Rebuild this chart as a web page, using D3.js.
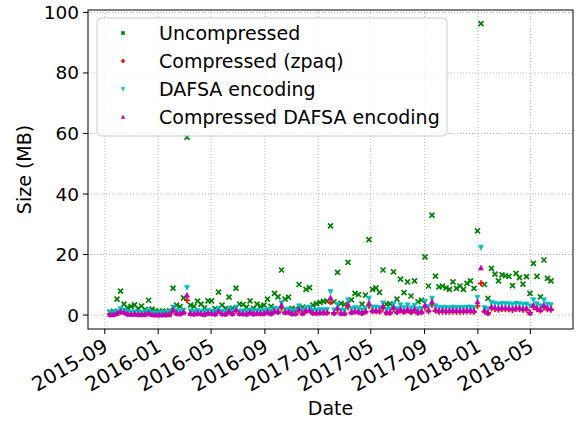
<!DOCTYPE html>
<html><head><meta charset="utf-8">
<script src="https://cdn.jsdelivr.net/npm/d3@7"></script>
<style>
html,body{margin:0;padding:0;background:#fff;}
svg{display:block;font-family:"DejaVu Sans",sans-serif;}
</style></head>
<body>
<svg id="chart" width="581" height="421"></svg>
<script>
const dates = ["2015-09-13","2015-09-21","2015-09-29","2015-10-07","2015-10-15","2015-10-23","2015-10-31","2015-11-08","2015-11-16","2015-11-24",
"2015-12-02","2015-12-10","2015-12-18","2015-12-26","2016-01-03","2016-01-11","2016-01-19","2016-01-27","2016-02-04","2016-02-12",
"2016-02-20","2016-02-28","2016-03-07","2016-03-15","2016-03-23","2016-03-31","2016-04-08","2016-04-16","2016-04-24","2016-05-02",
"2016-05-10","2016-05-18","2016-05-26","2016-06-03","2016-06-11","2016-06-19","2016-06-27","2016-07-05","2016-07-13","2016-07-21",
"2016-07-29","2016-08-06","2016-08-14","2016-08-22","2016-08-30","2016-09-07","2016-09-15","2016-09-23","2016-10-01","2016-10-09",
"2016-10-17","2016-10-25","2016-11-02","2016-11-10","2016-11-18","2016-11-26","2016-12-04","2016-12-12","2016-12-20","2016-12-28",
"2017-01-05","2017-01-13","2017-01-21","2017-01-29","2017-02-06","2017-02-14","2017-02-22","2017-03-02","2017-03-10","2017-03-18",
"2017-03-26","2017-04-03","2017-04-11","2017-04-19","2017-04-27","2017-05-05","2017-05-13","2017-05-21","2017-05-29","2017-06-06",
"2017-06-14","2017-06-22","2017-06-30","2017-07-08","2017-07-16","2017-07-24","2017-08-01","2017-08-09","2017-08-17","2017-08-25",
"2017-09-02","2017-09-10","2017-09-18","2017-09-26","2017-10-04","2017-10-12","2017-10-20","2017-10-28","2017-11-05","2017-11-13",
"2017-11-21","2017-11-29","2017-12-07","2017-12-15","2017-12-23","2017-12-31","2018-01-08","2018-01-16","2018-01-24","2018-02-01",
"2018-02-09","2018-02-17","2018-02-25","2018-03-05","2018-03-13","2018-03-21","2018-03-29","2018-04-06","2018-04-14","2018-04-22",
"2018-04-30","2018-05-08","2018-05-16","2018-05-24","2018-06-01","2018-06-09","2018-06-17"];

const uncompressed = [1.0,1.2,5.3,7.9,3.6,2.4,2.9,3.4,2.1,3.0,
1.8,4.9,2.0,1.4,1.2,1.3,1.2,1.4,8.9,3.3,
2.8,5.7,58.8,3.3,2.9,4.6,3.6,2.4,4.7,4.7,
2.1,7.6,3.3,2.2,5.9,2.3,8.9,3.6,3.5,2.6,
4.7,2.2,3.6,2.9,3.3,5.3,2.9,7.2,6.0,14.9,
5.3,5.9,2.2,2.0,10.1,2.6,8.5,9.1,3.3,3.8,
4.2,4.5,4.6,29.5,4.4,14.1,3.9,3.5,17.4,5.0,
7.2,6.8,3.6,6.6,24.9,8.5,9.0,7.5,14.9,3.6,
3.7,14.3,5.3,11.9,7.4,11.0,6.3,11.3,4.4,4.9,
19.2,9.6,33.0,12.9,9.3,9.6,9.0,8.5,11.0,8.8,
9.6,8.5,10.5,11.3,8.8,27.8,96.3,10.1,5.5,15.4,
13.5,11.3,13.3,13.0,12.8,9.7,13.8,12.4,10.2,12.7,
7.2,17.1,12.8,6.0,18.2,12.1,11.3];

const zpaq = [0.3,0.3,0.7,1.1,0.9,0.4,0.4,0.4,0.3,0.3,
0.3,0.6,0.3,0.2,0.2,0.2,0.2,0.3,1.6,0.6,
0.5,0.9,4.9,0.5,0.4,0.6,0.5,0.3,0.7,0.6,
0.4,1.6,0.5,0.4,1.1,0.5,1.7,0.5,0.5,0.4,
0.8,0.4,0.6,0.5,0.6,1.0,0.5,1.2,1.0,2.2,
0.9,1.0,0.5,0.5,1.6,0.6,1.3,1.5,0.7,0.7,
0.8,0.8,0.8,4.2,0.7,1.8,0.6,0.6,2.6,0.9,
1.2,1.0,0.7,1.1,3.0,1.3,1.3,1.2,2.2,0.8,
0.8,2.0,1.0,1.6,1.1,1.6,1.0,1.6,0.8,1.0,
2.5,1.3,3.3,1.4,1.1,1.1,1.1,1.1,1.2,1.1,
1.1,1.1,1.2,1.2,1.1,3.0,10.5,1.2,0.7,2.2,
2.0,1.8,2.0,1.9,1.9,1.7,2.0,1.9,1.8,1.8,
0.8,2.6,1.9,1.5,2.6,1.9,1.8];

const dafsa = [0.7,0.8,1.2,2.0,1.6,1.0,0.9,1.0,0.9,0.8,
1.0,1.4,0.8,0.7,0.7,0.8,0.8,1.0,2.6,1.4,
1.2,1.6,9.1,1.3,1.1,1.4,1.2,1.0,1.5,1.3,
1.1,2.0,1.2,1.1,2.0,1.2,2.6,1.3,1.3,1.1,
1.6,1.2,1.4,1.3,1.4,1.8,1.3,2.2,2.0,4.0,
1.8,1.9,1.4,1.4,3.0,1.5,2.4,2.6,1.6,1.6,
1.7,1.7,1.8,7.7,1.7,3.5,1.6,1.6,5.0,2.0,
2.4,2.2,1.7,2.2,5.5,2.6,2.6,2.4,4.0,1.8,
1.9,3.6,2.1,3.3,2.4,3.3,2.3,3.2,2.0,2.2,
4.4,2.8,5.5,3.0,2.4,2.5,2.4,2.3,2.6,2.4,
2.5,2.4,2.6,2.6,2.4,5.8,22.3,2.4,2.0,4.1,
3.8,3.6,3.8,3.7,3.7,3.4,3.8,3.7,3.5,3.6,
3.0,5.0,3.7,3.0,5.0,3.6,3.3];

const compressedDafsa = [0.2,0.2,0.6,1.3,1.0,0.4,0.3,0.4,0.3,0.2,
0.3,0.7,0.2,0.1,0.1,0.2,0.2,0.3,1.8,0.7,
0.5,1.0,6.6,0.6,0.4,0.7,0.5,0.3,0.8,0.6,
0.4,1.3,0.5,0.4,1.3,0.5,1.8,0.6,0.6,0.4,
0.9,0.5,0.7,0.6,0.7,1.1,0.6,1.4,1.2,3.3,
1.0,1.1,0.6,0.6,2.0,0.7,1.5,1.7,0.8,0.8,
0.9,0.9,1.0,5.7,0.8,2.4,0.7,0.7,3.6,1.0,
1.4,1.2,0.8,1.3,4.0,1.6,1.6,1.4,3.0,0.9,
1.0,2.6,1.2,2.0,1.3,2.0,1.2,2.0,1.0,1.2,
3.3,1.7,4.5,1.9,1.5,1.6,1.5,1.5,1.7,1.5,
1.6,1.5,1.7,1.7,1.5,4.4,15.6,1.6,0.8,2.8,
2.5,2.3,2.5,2.4,2.4,2.1,2.5,2.4,2.2,2.3,
0.8,3.3,2.4,1.8,3.3,2.4,2.2];

const seriesNames = ["Uncompressed","Compressed (zpaq)","DAFSA encoding","Compressed DAFSA encoding"];
const xTickLabels = ["2015-09","2016-01","2016-05","2016-09","2017-01","2017-05","2017-09","2018-01","2018-05"];
const yTicks = [0,20,40,60,80,100];

const parse = d3.utcParse("%Y-%m-%d");
const parseMonth = d3.utcParse("%Y-%m");
const dd = dates.map(parse);

const svg = d3.select("#chart");
const m = {l:88, r:573, t:10, b:329};
const FS = 19;

const ext = d3.extent(dd);
const span = ext[1]-ext[0];
const x = d3.scaleUtc().domain([new Date(+ext[0]-span*0.05), new Date(+ext[1]+span*0.05)]).range([m.l, m.r]);
const y = d3.scaleLinear().domain([-4.6, 100.8]).range([m.b, m.t]);

// grid
const grid = svg.append("g");
xTickLabels.forEach(t => {
  const xx = x(parseMonth(t));
  grid.append("line").attr("x1",xx).attr("x2",xx).attr("y1",m.t).attr("y2",m.b)
    .attr("stroke","#b0b0b0").attr("stroke-width",0.9).attr("stroke-dasharray","1,2");
});
yTicks.forEach(v => {
  grid.append("line").attr("x1",m.l).attr("x2",m.r).attr("y1",y(v)).attr("y2",y(v))
    .attr("stroke","#b0b0b0").attr("stroke-width",0.9).attr("stroke-dasharray","1,2");
});

// markers
const S = 2.5;
const markerDefs = [
  {vals: uncompressed, color:"#008000", type:"x"},
  {vals: zpaq, color:"#ff0000", type:"+"},
  {vals: dafsa, color:"#00bfbf", type:"v"},
  {vals: compressedDafsa, color:"#bf00bf", type:"^"}
];
function markerPath(type, s){
  if(type==="x") return `M${-s},${-s}L${s},${s}M${-s},${s}L${s},${-s}`;
  if(type==="+") return `M${-s*1.2},0H${s*1.2}M0,${-s*1.2}V${s*1.2}`;
  if(type==="v") return `M${-s},${-s*0.9}L${s},${-s*0.9}L0,${s*1.1}Z`;
  return `M${-s},${s*0.9}L${s},${s*0.9}L0,${-s*1.1}Z`;
}
function styleMarker(sel, d){
  if(d.type==="x"||d.type==="+") sel.attr("fill","none").attr("stroke",d.color).attr("stroke-width",1.7);
  else sel.attr("fill",d.color).attr("stroke",d.color).attr("stroke-width",0.6);
}
const plot = svg.append("g");
markerDefs.forEach(def => {
  const g = plot.append("g");
  g.selectAll("path").data(def.vals).join("path")
    .attr("d", markerPath(def.type, S))
    .attr("transform",(v,i)=>`translate(${x(dd[i])},${y(v)})`)
    .call(sel => styleMarker(sel, def));
});

// frame
svg.append("rect").attr("x",m.l).attr("y",m.t).attr("width",m.r-m.l).attr("height",m.b-m.t)
  .attr("fill","none").attr("stroke","#000").attr("stroke-width",1);

// y axis ticks
const yAx = svg.append("g");
yTicks.forEach(v => {
  yAx.append("line").attr("x1",m.l-5).attr("x2",m.l).attr("y1",y(v)).attr("y2",y(v)).attr("stroke","#000");
  yAx.append("text").attr("x",m.l-9).attr("y",y(v)).attr("text-anchor","end").attr("dominant-baseline","central")
    .attr("font-size",18.5).attr("fill","#000").text(v);
});
// x axis ticks
const xAx = svg.append("g");
xTickLabels.forEach(t => {
  const xx = x(parseMonth(t));
  xAx.append("line").attr("x1",xx).attr("x2",xx).attr("y1",m.b).attr("y2",m.b+5).attr("stroke","#000");
  xAx.append("text").attr("transform",`translate(${xx-3},${m.b+8}) rotate(-30)`)
    .attr("text-anchor","end").attr("dominant-baseline","hanging").attr("font-size",20).attr("fill","#000").text(t);
});

// axis labels
svg.append("text").attr("x",(m.l+m.r)/2).attr("y",415).attr("text-anchor","middle").attr("font-size",FS).text("Date");
svg.append("text").attr("transform",`translate(31,${(m.t+m.b)/2}) rotate(-90)`).attr("text-anchor","middle")
  .attr("font-size",FS).text("Size (MB)");

// legend
const lg = svg.append("g");
lg.append("rect").attr("x",97).attr("y",18).attr("width",350).attr("height",118).attr("rx",4)
  .attr("fill","#fff").attr("fill-opacity",0.8).attr("stroke","#cccccc").attr("stroke-width",1);
markerDefs.forEach((def,i) => {
  const cy = 33 + i*28;
  const p = lg.append("path").attr("d", markerPath(def.type, 1.7)).attr("transform",`translate(123,${cy})`);
  styleMarker(p, def);
  lg.append("text").attr("x",159).attr("y",cy).attr("dominant-baseline","central").attr("font-size",FS)
    .attr("fill","#000").text(seriesNames[i]);
});
</script>
</body></html>
